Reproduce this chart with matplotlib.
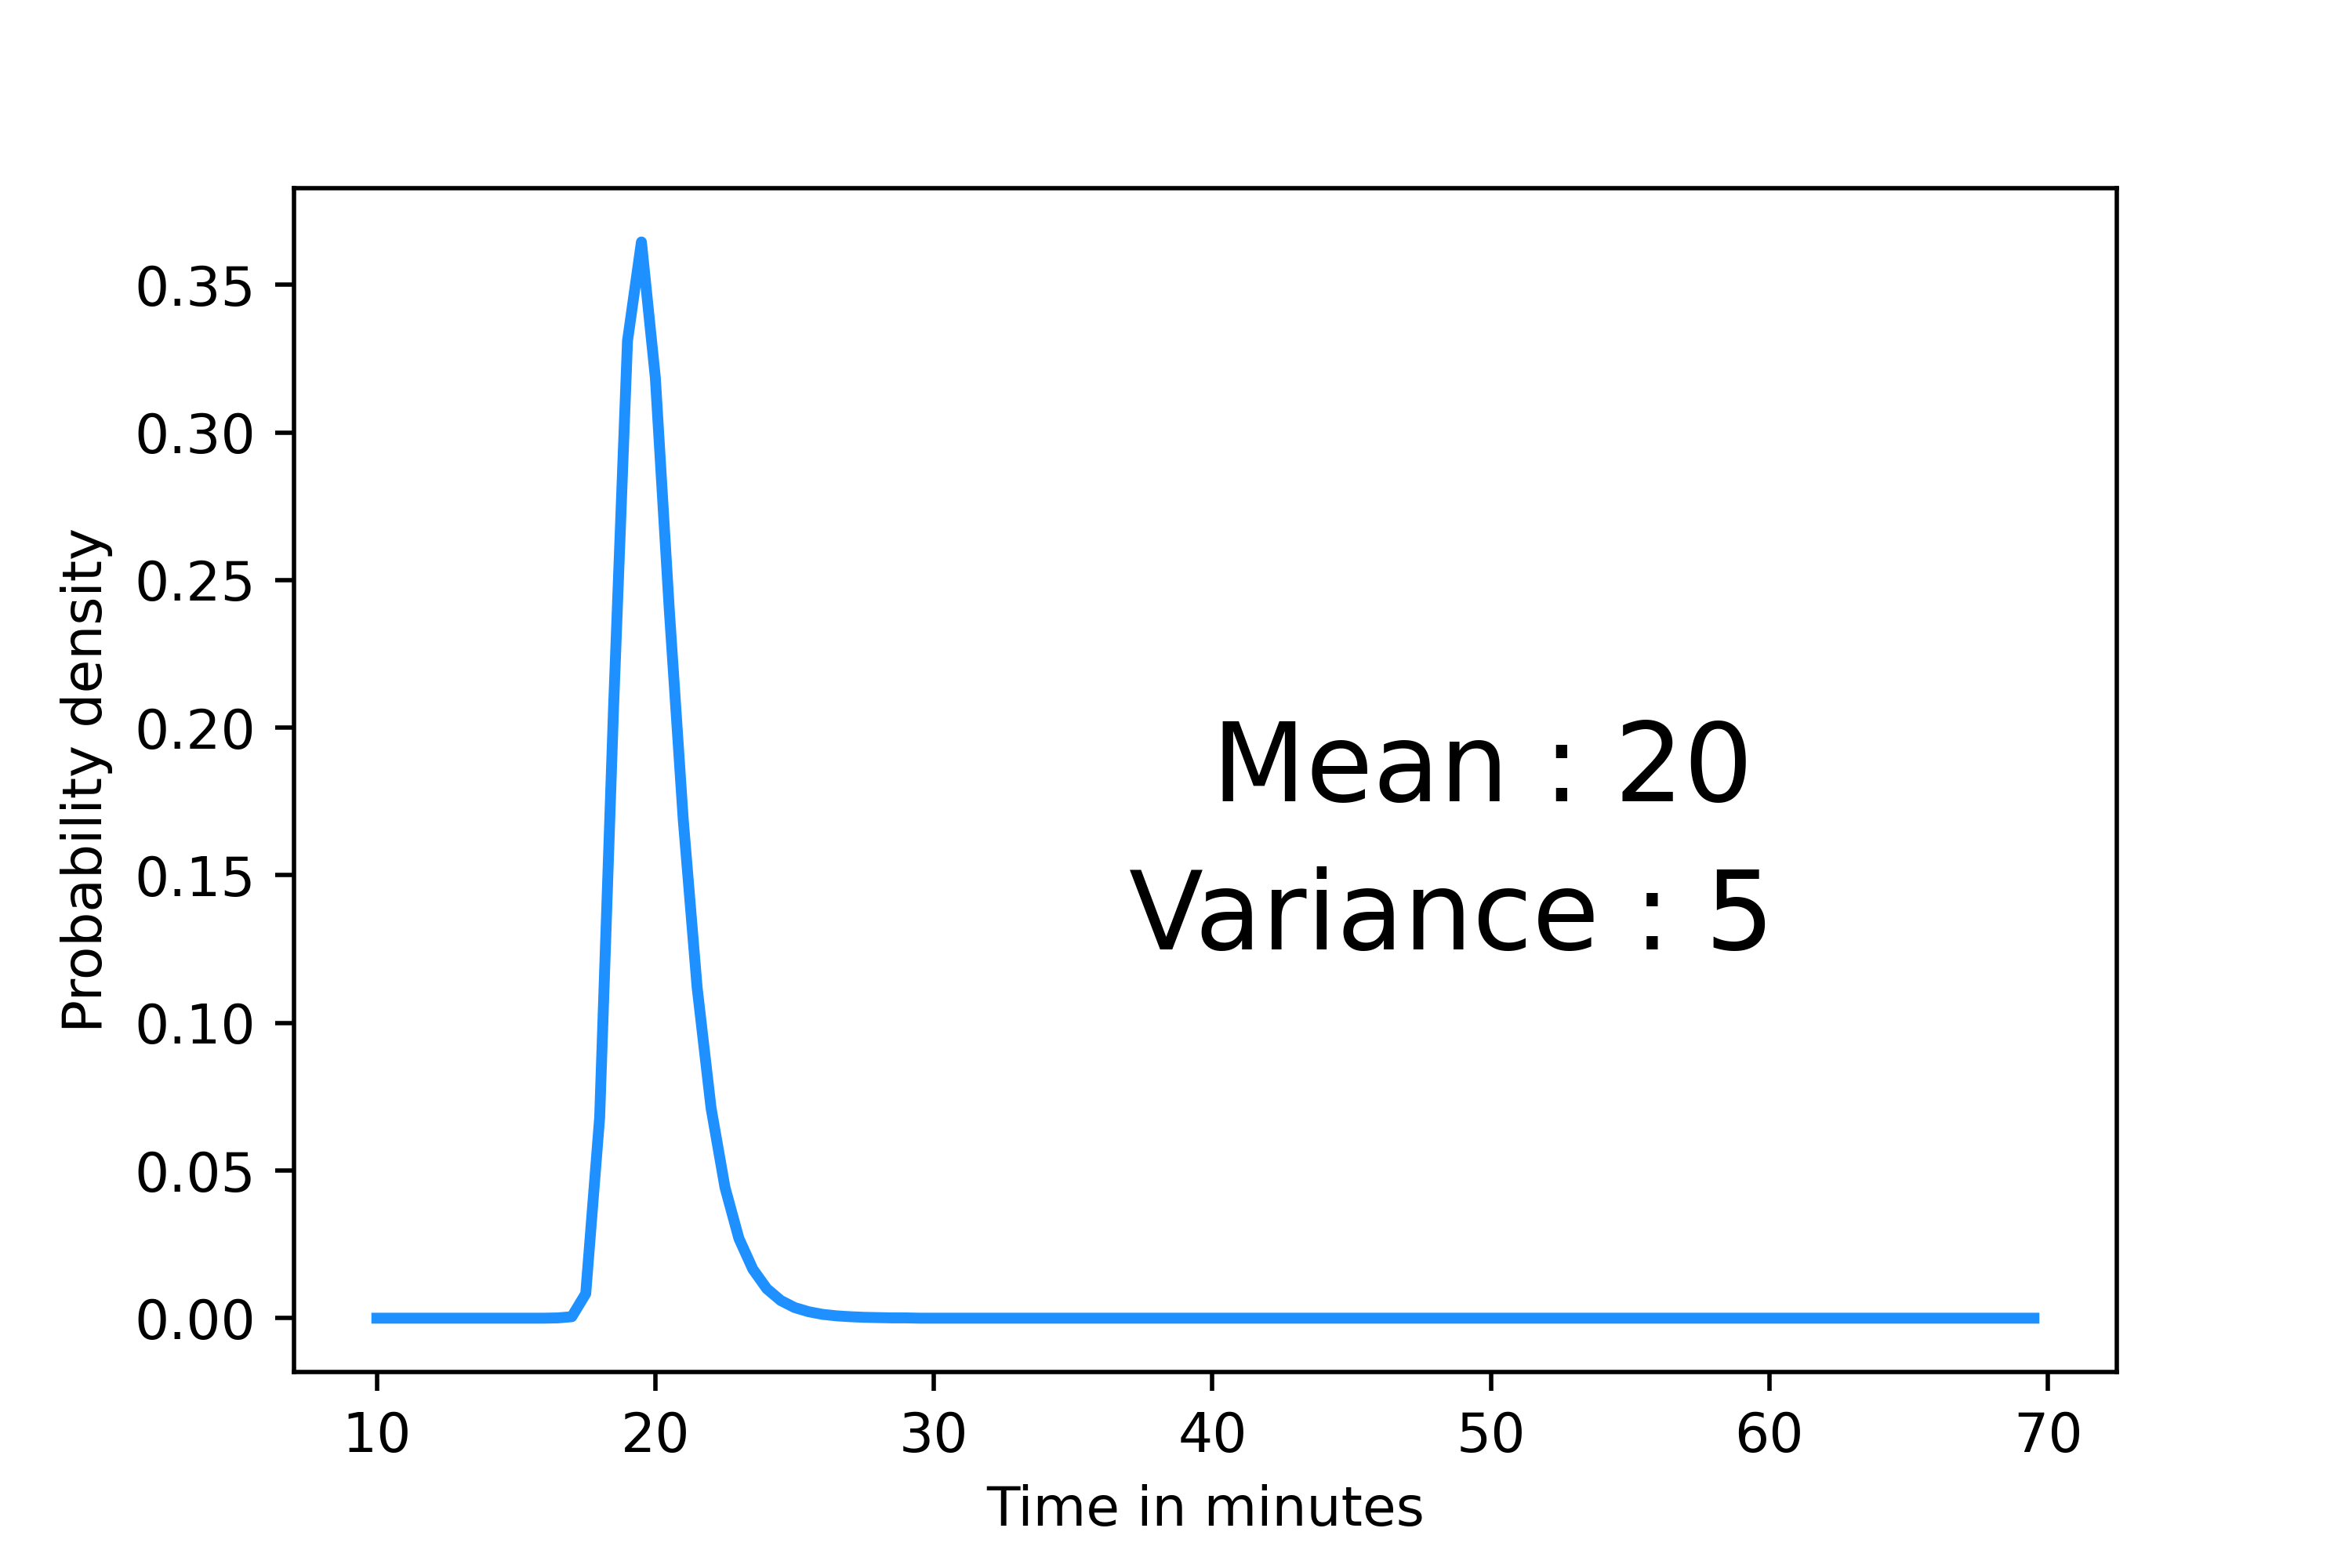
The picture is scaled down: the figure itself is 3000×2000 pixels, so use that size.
import numpy as np
import matplotlib
matplotlib.use('Agg')
import matplotlib.pyplot as plt

# time grid, half-minute steps
minutes = np.arange(10.0, 70.0, 0.5)

# density
flat_left = [0.0] * 13          # 10.0 .. 16.0
peak = [0.0001, 0.0005, 0.0083, 0.068, 0.207, 0.331, 0.3645, 0.3185,
        0.240, 0.169, 0.112, 0.0712, 0.0443, 0.0270, 0.0166, 0.0100,
        0.0060, 0.0036, 0.0022, 0.0013, 0.0008, 0.0005, 0.0003, 0.0002,
        0.0001, 0.0001]         # 16.5 .. 29.0
flat_right = [0.0] * 81         # 29.5 .. 69.5
density = flat_left + peak + flat_right

mean_txt = 'Mean : 20'
var_txt = 'Variance : 5'

fig, ax = plt.subplots(figsize=(6, 4), dpi=500)
fig.subplots_adjust(left=0.125, right=0.9, top=0.88, bottom=0.125)

ax.plot(minutes, density, color='dodgerblue', linewidth=2)
ax.text(40, 0.175, mean_txt, fontsize=20)
ax.text(37, 0.125, var_txt, fontsize=20)

ax.set_xlabel('Time in minutes')
ax.set_ylabel('Probability density')

fig.savefig('out.png', dpi=500)
